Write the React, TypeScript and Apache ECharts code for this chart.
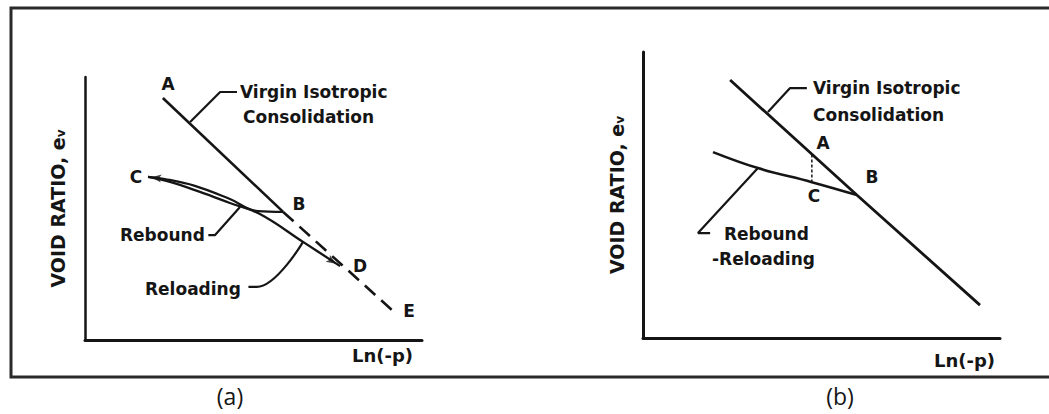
import React, { useEffect, useRef } from "react";
import * as echarts from "echarts";

// ---- Panel (a) data (x: Ln(-p) units 0..10, y: void ratio units 0..10) ----
const virginSolidA: number[][] = [[2.31, 9.2], [5.88, 4.87]];
const virginDashedA: number[][] = [[5.88, 4.87], [9.11, 1.14]];
const reboundA: number[][] = [[5.88, 4.87], [5.13, 4.9], [4.3, 5.36], [3.26, 5.86], [2.37, 6.12], [1.87, 6.2]];
const reloadingA: number[][] = [[1.87, 6.2], [2.52, 6.01], [3.41, 5.63], [4.3, 5.21], [5.19, 4.79], [6.47, 3.73], [7.57, 2.81]];
const leaderVirginA: number[][] = [[3.12, 8.29], [4.01, 9.43], [4.51, 9.43]];
const leaderReboundA: number[][] = [[4.6, 5.06], [3.86, 3.99], [3.66, 3.99]];
const leaderReloadA: number[][] = [[6.47, 3.73], [5.1, 2.02], [4.85, 2.02]];
const arrowsA: { value: number[]; rot: number }[] = [
  { value: [1.97, 6.19], rot: 83 },
  { value: [7.45, 2.9], rot: -123 },
];

// ---- Panel (b) data ----
const virginB: number[][] = [[2.44, 9.02], [5.99, 5.0], [9.44, 1.15]];
const reboundReloadB: number[][] = [[1.96, 6.5], [3.22, 5.94], [4.73, 5.45], [5.99, 5.0]];
const dashACB: number[][] = [[4.73, 6.42], [4.73, 5.47]];
const leaderVirginB: number[][] = [[3.5, 7.9], [4.12, 8.74], [4.59, 8.74]];
const leaderReboundB: number[][] = [[3.22, 5.94], [1.54, 3.67], [1.88, 3.67]];

// ---- Texts ----
const yAxisTitle = "VOID RATIO, e{s|v}";
const xAxisTitle = "Ln(-p)";
const virginLabel = ["Virgin Isotropic", "Consolidation"];
const captions = ["(a)", "(b)"];

const INK = "#151515";
const FONT = "DejaVu Sans";

export default function App() {
  const ref = useRef<HTMLDivElement>(null);
  useEffect(() => {
    if (!ref.current) return;
    const chart = echarts.init(ref.current, undefined, { renderer: "svg" });

    const lineS = (data: number[][], idx: number, width = 2.5, type: any = "solid") => ({
      type: "line",
      xAxisIndex: idx,
      yAxisIndex: idx,
      data,
      symbol: "none",
      smooth: false,
      lineStyle: { color: INK, width, type },
      silent: true,
    });
    const smoothS = (data: number[][], idx: number, width = 2.2) => ({
      ...lineS(data, idx, width),
      smooth: 0.4,
    });

    const txt = (text: string, x: number, y: number, size = 17, align = "left", family = FONT, weight: any = "bold") => ({
      type: "text",
      x,
      y,
      style: {
        text,
        fill: INK,
        fontSize: size,
        fontFamily: family,
        fontWeight: weight,
        align,
        verticalAlign: "middle",
      },
      silent: true,
    });

    const axisCommon = {
      type: "value",
      min: 0,
      max: 10,
      axisTick: { show: false },
      axisLabel: { show: false },
      splitLine: { show: false },
    };

    const yName = (gap: number) => ({
      name: yAxisTitle,
      nameLocation: "middle",
      nameGap: gap,
      nameRotate: 90,
      nameTextStyle: {
        color: INK,
        fontFamily: FONT,
        fontWeight: "bold",
        fontSize: 19,
        rich: { s: { fontSize: 12, fontWeight: "bold", fontFamily: FONT, color: INK, verticalAlign: "bottom", padding: [7, 0, 0, 0] } },
      },
    });

    chart.setOption({
      animation: false,
      backgroundColor: "#ffffff",
      grid: [
        { left: 85, top: 77, width: 337, height: 263 },
        { left: 643, top: 52, width: 357, height: 286 },
      ],
      xAxis: [
        { ...axisCommon, gridIndex: 0, axisLine: { onZero: false, lineStyle: { color: INK, width: 3 } } },
        { ...axisCommon, gridIndex: 1, axisLine: { onZero: false, lineStyle: { color: INK, width: 3 } } },
      ],
      yAxis: [
        { ...axisCommon, gridIndex: 0, axisLine: { onZero: false, lineStyle: { color: INK, width: 2.5 } }, ...yName(18) },
        { ...axisCommon, gridIndex: 1, axisLine: { onZero: false, lineStyle: { color: INK, width: 3 } }, ...yName(17) },
      ],
      series: [
        lineS(virginSolidA, 0, 2.6),
        lineS(virginDashedA, 0, 2.6, [14, 8]),
        smoothS(reboundA, 0, 2.3),
        smoothS(reloadingA, 0, 2.3),
        lineS(leaderVirginA, 0, 2.2),
        lineS(leaderReboundA, 0, 2.2),
        smoothS(leaderReloadA, 0, 2.2),
        {
          type: "scatter",
          xAxisIndex: 0,
          yAxisIndex: 0,
          data: arrowsA.map((a) => ({ value: a.value, symbolRotate: a.rot })),
          symbol: "arrow",
          symbolSize: [6, 10],
          itemStyle: { color: INK },
          silent: true,
        },
        lineS(virginB, 1, 2.8),
        smoothS(reboundReloadB, 1, 2.6),
        lineS(dashACB, 1, 1.5, [3, 2]),
        lineS(leaderVirginB, 1, 2.2),
        lineS(leaderReboundB, 1, 2.2),
      ],
      graphic: [
        {
          type: "rect",
          shape: { x: 11, y: 8, width: 1060, height: 369 },
          style: { fill: "none", stroke: "#2a2a2a", lineWidth: 3 },
          silent: true,
        },
        // panel (a) texts
        txt("A", 168, 84, 17, "center"),
        txt("B", 299, 204, 17, "center"),
        txt("C", 136, 177, 17, "center"),
        txt("D", 360, 266, 17, "center"),
        txt("E", 409, 311, 17, "center"),
        txt(virginLabel[0], 240, 92),
        txt(virginLabel[1], 243, 117),
        txt("Rebound", 120, 235),
        txt("Reloading", 145, 289),
        txt(xAxisTitle, 352, 355, 18),
        txt(captions[0], 230, 396, 23, "center", "Open Sans", "normal"),
        // panel (b) texts
        txt("A", 823, 143, 17, "center"),
        txt("B", 872, 177, 17, "center"),
        txt("C", 814, 196, 17, "center"),
        txt(virginLabel[0], 813, 88),
        txt(virginLabel[1], 813, 115),
        txt("Rebound", 724, 234),
        txt("-Reloading", 712, 259),
        txt(xAxisTitle, 934, 360, 18),
        txt(captions[1], 840, 396, 23, "center", "Open Sans", "normal"),
      ],
    });
    return () => chart.dispose();
  }, []);
  return <div ref={ref} style={{ position: "fixed", left: 0, top: 0, width: 1049, height: 414 }} />;
}
